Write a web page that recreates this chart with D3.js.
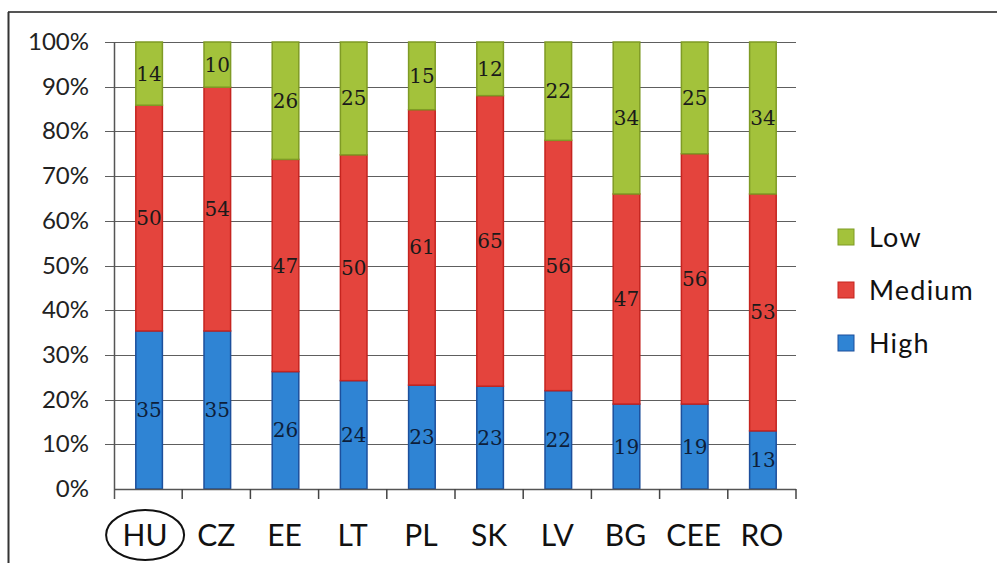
<!DOCTYPE html>
<html><head><meta charset="utf-8">
<script src="https://cdn.jsdelivr.net/npm/d3@7"></script>
<style>body{margin:0;background:#fff}svg{display:block}</style>
</head><body>
<svg id="c" width="997" height="563"></svg>
<script>
const categories = ["HU","CZ","EE","LT","PL","SK","LV","BG","CEE","RO"];
const high   = [35,35,26,24,23,23,22,19,19,13];
const medium = [50,54,47,50,61,65,56,47,56,53];
const low    = [14,10,26,25,15,12,22,34,25,34];
const seriesNames = ["High","Medium","Low"];
const yTicks = [0,0.1,0.2,0.3,0.4,0.5,0.6,0.7,0.8,0.9,1];

const colors = {High:"#2f84d4", Medium:"#e4443d", Low:"#a3c23b"};
const strokes = {High:"#1c4f9c", Medium:"#c5241f", Low:"#7f9b25"};

const svg = d3.select("#c");
const font = "Lato, 'Open Sans', sans-serif";

// frame
svg.append("line").attr("x1",8).attr("x2",997).attr("y1",12).attr("y2",12).attr("stroke","#555").attr("stroke-width",2);
svg.append("line").attr("x1",8.5).attr("x2",8.5).attr("y1",12).attr("y2",563).attr("stroke","#333").attr("stroke-width",2);

const x = d3.scaleBand().domain(categories).range([115,797]).paddingInner(0.61).paddingOuter(0.305);
const xb = d3.scaleBand().domain(categories).range([114,796]);
const y = d3.scaleLinear().domain([0,1]).range([489,42]);

const table = categories.map((c,i)=>{
  const s = high[i]+medium[i]+low[i];
  return {cat:c, High:high[i]/s, Medium:medium[i]/s, Low:low[i]/s, raw:{High:high[i],Medium:medium[i],Low:low[i]}};
});
const stacked = d3.stack().keys(seriesNames)(table);

// gridlines
svg.append("g").selectAll("line").data(yTicks.slice(1)).join("line")
  .attr("x1",105).attr("x2",796).attr("y1",d=>Math.round(y(d))+0.5).attr("y2",d=>Math.round(y(d))+0.5)
  .attr("stroke","#5e5e5e").attr("stroke-width",1.2);

// y tick labels
svg.append("g").selectAll("text").data(yTicks).join("text")
  .attr("x",89).attr("y",d=>y(d)+8).attr("text-anchor","end")
  .attr("font-family",font).attr("font-size",24).attr("fill","#222")
  .text(d=>Math.round(d*100)+"%");

// bars
const g = svg.append("g");
stacked.forEach(layer=>{
  g.append("g").selectAll("rect").data(layer).join("rect")
    .attr("x",d=>x(d.data.cat)).attr("width",x.bandwidth())
    .attr("y",d=>y(d[1])).attr("height",d=>y(d[0])-y(d[1]))
    .attr("fill",colors[layer.key]).attr("stroke",strokes[layer.key]).attr("stroke-width",1.5);
});
// labels
stacked.forEach(layer=>{
  g.append("g").selectAll("text").data(layer).join("text")
    .attr("x",d=>x(d.data.cat)+x.bandwidth()/2)
    .attr("y",d=>(y(d[0])+y(d[1]))/2+7)
    .attr("text-anchor","middle")
    .attr("font-family","'DejaVu Serif', 'Liberation Serif', serif").attr("font-size",20)
    .attr("fill", layer.key==="High" ? "#0d1e3a" : "#1a1a1a")
    .text(d=>d.data.raw[layer.key]);
});

// axes lines
svg.append("line").attr("x1",114).attr("x2",796).attr("y1",489.5).attr("y2",489.5).attr("stroke","#555").attr("stroke-width",1.5);
svg.append("line").attr("x1",114.5).attr("x2",114.5).attr("y1",42).attr("y2",499).attr("stroke","#555").attr("stroke-width",1.5);
// x ticks at boundaries
svg.append("g").selectAll("line").data(categories.slice(1).concat(["__end"])).join("line")
  .attr("x1",d=>d==="__end"?796:xb(d)).attr("x2",d=>d==="__end"?796:xb(d))
  .attr("y1",489).attr("y2",499).attr("stroke","#444").attr("stroke-width",1.5);

// x labels
svg.append("g").selectAll("text").data(categories).join("text")
  .attr("x",d=>xb(d)+xb.bandwidth()/2-(d==="HU"?3:0)).attr("y",546).attr("text-anchor","middle")
  .attr("font-family",font).attr("font-size",30).attr("fill","#111")
  .text(d=>d);
// circle around HU
svg.append("ellipse").attr("cx",xb("HU")+xb.bandwidth()/2-3).attr("cy",535).attr("rx",39).attr("ry",25)
  .attr("fill","none").attr("stroke","#111").attr("stroke-width",2);

// legend
const legendItems = ["Low","Medium","High"];
const lg = svg.append("g").selectAll("g").data(legendItems).join("g")
  .attr("transform",(d,i)=>`translate(838,${229+i*53})`);
lg.append("rect").attr("width",16).attr("height",16).attr("fill",d=>colors[d]).attr("stroke",d=>strokes[d]).attr("stroke-width",1);
lg.append("text").attr("x",31).attr("y",18).attr("font-family",font).attr("font-size",27).attr("letter-spacing",1.2).attr("fill","#111").text(d=>d);
</script>
</body></html>
